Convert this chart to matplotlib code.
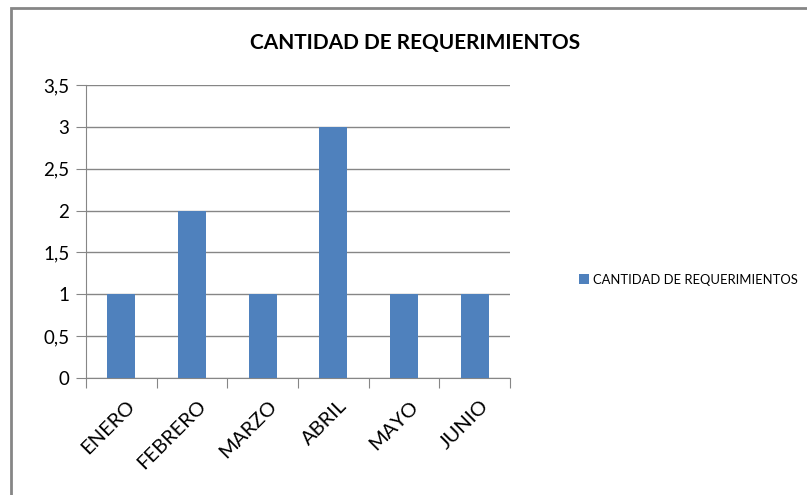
import matplotlib.pyplot as plt
import matplotlib.transforms as mtransforms
from matplotlib.patches import Rectangle

months = ['ENERO', 'FEBRERO', 'MARZO', 'ABRIL', 'MAYO', 'JUNIO']
values = [1, 2, 1, 3, 1, 1]
series_name = 'CANTIDAD DE REQUERIMIENTOS'
y_ticks = [0, 0.5, 1, 1.5, 2, 2.5, 3, 3.5]
y_labels = ['0', '0,5', '1', '1,5', '2', '2,5', '3', '3,5']

plt.rcParams['font.family'] = ['Lato', 'DejaVu Sans']
W, H = 807, 495
fig = plt.figure(figsize=(W / 100, H / 100), dpi=100)
ax = fig.add_axes([86 / W, 1 - 378 / H, 424 / W, 293 / H])

grey = '#868686'
x = range(len(months))
ax.bar(x, values, width=0.4, color='#4F81BD', label=series_name, zorder=3)

ax.set_xlim(-0.5, len(months) - 0.5)
ax.set_ylim(0, 3.5)
ax.set_yticks(y_ticks)
ax.set_yticklabels(y_labels, fontsize=13.5)
ax.set_xticks([i - 0.5 for i in range(len(months) + 1)])
ax.set_xticklabels([])
ax.set_xticks(list(x), minor=True)
ax.set_xticklabels(months, minor=True, rotation=45, ha='right',
                   rotation_mode='anchor', fontsize=14.5)
ax.tick_params(axis='x', which='minor', length=0, pad=14)
ax.tick_params(axis='x', which='major', length=7, color=grey)
ax.tick_params(axis='y', length=7, color=grey, pad=5)
ax.grid(axis='y', color=grey, linewidth=1, zorder=0)

shift = mtransforms.ScaledTranslation(5 / 100, 0, fig.dpi_scale_trans)
for lbl in ax.get_xticklabels(minor=True):
    lbl.set_transform(lbl.get_transform() + shift)

for side in ['top', 'right']:
    ax.spines[side].set_visible(False)
for side in ['left', 'bottom']:
    ax.spines[side].set_color(grey)

fig.text(415 / W, 1 - 43 / H, series_name, ha='center', va='center',
         fontsize=15, fontweight='bold')

ax.legend(loc='center left', bbox_to_anchor=((579 - 86) / 424, 0.336), frameon=False,
          fontsize=9.4, handlelength=0.75, handleheight=0.75, handletextpad=0.3,
          borderaxespad=0, borderpad=0)

border = Rectangle((11 / W, -0.1), 1.1, 1.1 - 8 / H, transform=fig.transFigure,
                   fill=False, edgecolor=grey, linewidth=2)
fig.patches.append(border)

fig.savefig('out.png', dpi=100)
